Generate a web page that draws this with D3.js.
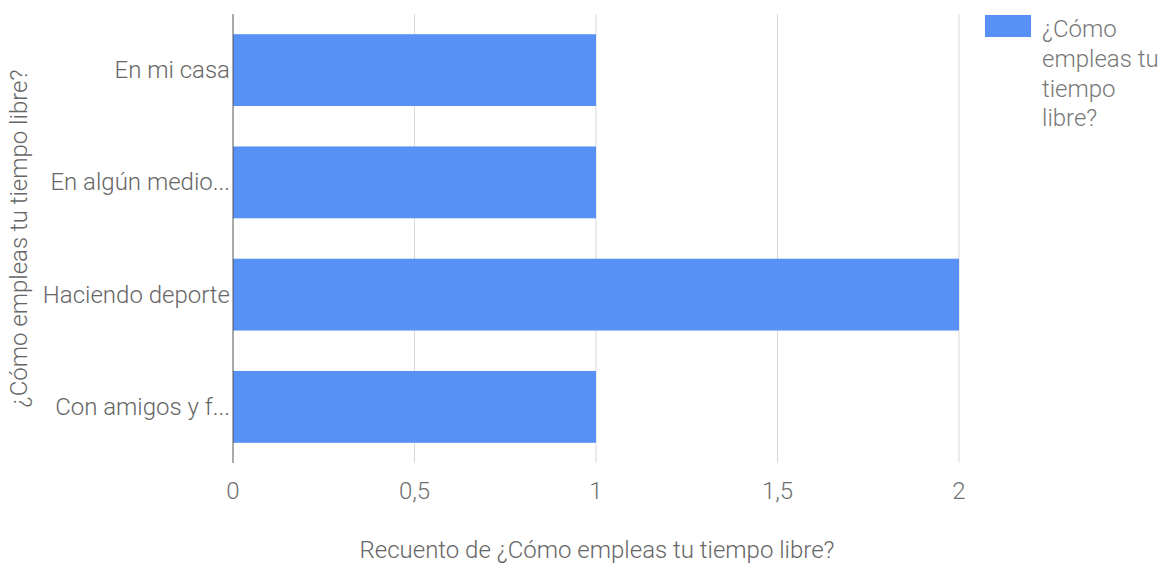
<!DOCTYPE html>
<html><head><meta charset="utf-8">
<script src="https://cdn.jsdelivr.net/npm/d3@7"></script>
<style>body{margin:0;background:#fff;} text{font-family:Roboto, "Noto Sans", sans-serif;}</style>
</head><body>
<svg id="chart" width="1166" height="568"></svg>
<script>
const categories = ["En mi casa", "En algún medio...", "Haciendo deporte", "Con amigos y f..."];
const values = [1, 1, 2, 1];
const tickValues = [0, 0.5, 1, 1.5, 2];
const tickLabels = ["0", "0,5", "1", "1,5", "2"];
const seriesName = "¿Cómo empleas tu tiempo libre?";
const legendLines = ["¿Cómo", "empleas tu", "tiempo", "libre?"];
const xTitle = "Recuento de ¿Cómo empleas tu tiempo libre?";
const yTitle = "¿Cómo empleas tu tiempo libre?";

(function () {
const svg = d3.select("#chart");
const mLeft = 233, mRight = 959, mTop = 14, mBottom = 463;
const x = d3.scaleLinear().domain([0, 2]).range([mLeft, mRight]);
const y = d3.scaleBand().domain(categories).range([mTop, mBottom]).paddingInner(0.36).paddingOuter(0.18);
const color = "#5891f5";
const fs = 24;

svg.append("g").selectAll("line").data(tickValues.filter(d => d !== 0)).join("line")
  .attr("x1", d => x(d)).attr("x2", d => x(d)).attr("y1", mTop).attr("y2", mBottom)
  .attr("stroke", "#d9d9d9").attr("stroke-width", 1);

svg.append("g").selectAll("rect").data(categories).join("rect")
  .attr("x", x(0)).attr("y", d => y(d))
  .attr("width", (d, i) => x(values[i]) - x(0))
  .attr("height", y.bandwidth())
  .attr("fill", color);

svg.append("line").attr("x1", x(0)).attr("x2", x(0)).attr("y1", mTop).attr("y2", mBottom)
  .attr("stroke", "#555").attr("stroke-width", 1);

svg.append("g").selectAll("text").data(tickValues).join("text")
  .attr("x", d => x(d)).attr("y", 499).attr("text-anchor", "middle")
  .attr("fill", "#6f6f6f").attr("font-size", fs).attr("font-weight", 300)
  .text((d, i) => tickLabels[i]);

svg.append("g").selectAll("text").data(categories).join("text")
  .attr("x", mLeft - 3).attr("y", d => y(d) + y.bandwidth() / 2 + 8)
  .attr("text-anchor", "end").attr("fill", "#666").attr("font-size", fs).attr("font-weight", 300)
  .text(d => d);

svg.append("text").attr("x", (mLeft + mRight) / 2 + 1).attr("y", 558).attr("text-anchor", "middle")
  .attr("fill", "#666").attr("font-size", fs).attr("font-weight", 300).text(xTitle);

svg.append("text").attr("transform", `translate(27,${(mTop + mBottom) / 2}) rotate(-90)`)
  .attr("text-anchor", "middle").attr("fill", "#666").attr("font-size", 24).attr("font-weight", 300).text(yTitle);

svg.append("rect").attr("x", 985).attr("y", 15).attr("width", 46).attr("height", 22).attr("fill", color);
svg.append("g").selectAll("text").data(legendLines).join("text")
  .attr("x", 1042).attr("y", (d, i) => 37 + i * 29.8)
  .attr("fill", "#777").attr("font-size", fs).attr("font-weight", 300).text(d => d);
})();
</script>
</body></html>
